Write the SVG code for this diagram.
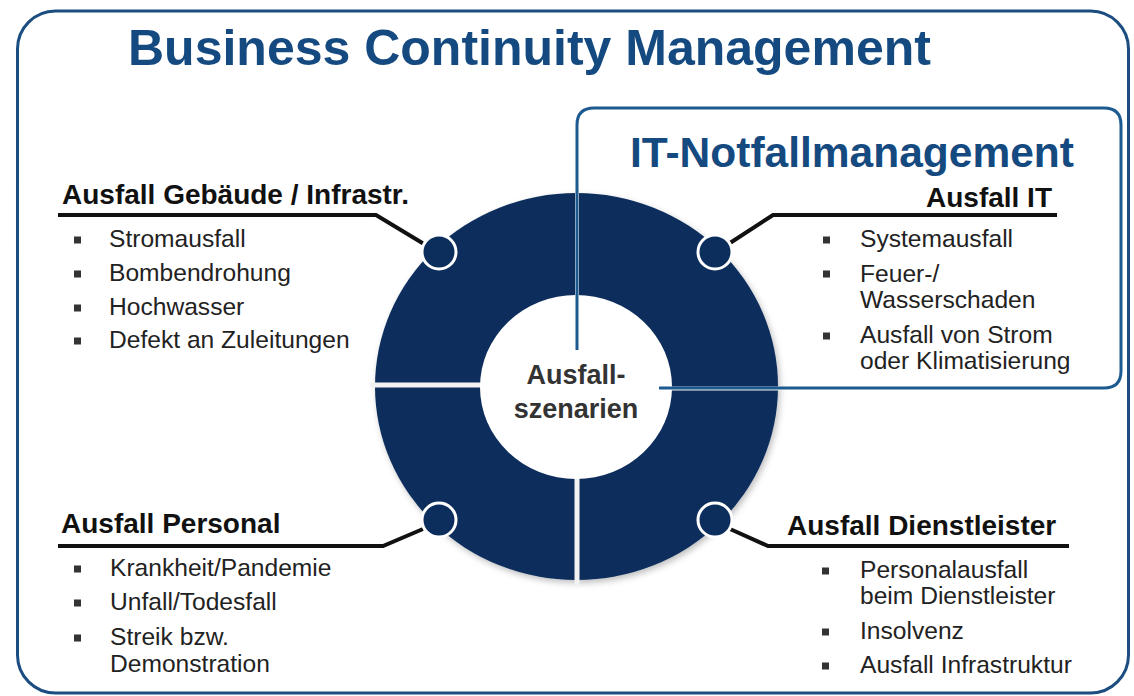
<svg xmlns="http://www.w3.org/2000/svg" width="1134" height="696" viewBox="0 0 1134 696">
  <defs>
    <filter id="shadow" x="-10%" y="-10%" width="120%" height="120%">
      <feDropShadow dx="2" dy="3" stdDeviation="3" flood-color="#000" flood-opacity="0.25"/>
    </filter>
    <style>
      text { font-family: "Liberation Sans", Arial, sans-serif; }
      .title { font-size: 50px; font-weight: bold; fill: #154a80; }
      .subtitle { font-size: 42.5px; font-weight: bold; fill: #154a80; }
      .head { font-size: 28px; font-weight: bold; fill: #111; }
      .item { font-size: 24.6px; fill: #222; }
      .center { font-size: 27px; font-weight: bold; fill: #333; text-anchor: middle; }
      .bullet { fill: #333; }
      .conn { fill: none; stroke: #111; stroke-width: 4; stroke-linejoin: miter; }
      .dot { fill: #0c2e5c; stroke: #fff; stroke-width: 3; }
      .frame { fill: none; stroke: #1b4d80; stroke-width: 3; }
      .itline { fill: none; stroke: #1d5a90; stroke-width: 3; }
    </style>
  </defs>
  <rect width="1134" height="696" fill="#fff"/>

  <g id="frame-bcm">
    <rect class="frame" x="17.5" y="11" width="1111" height="682" rx="38" ry="38"/>
    <text class="title" x="128" y="65">Business Continuity Management</text>
  </g>

  <g id="ring">
    <ellipse cx="576.5" cy="386.5" rx="201.5" ry="193.5" fill="#0c2e5c" filter="url(#shadow)"/>
    <line x1="370" y1="385" x2="485" y2="385" stroke="#f2f2f2" stroke-width="5"/>
    <line x1="577" y1="470" x2="577" y2="585" stroke="#f2f2f2" stroke-width="5"/>
    <line x1="577" y1="188" x2="577" y2="300" stroke="#f2f2f2" stroke-width="4"/>
    <line x1="665" y1="388.5" x2="782" y2="388.5" stroke="#f2f2f2" stroke-width="4"/>
    <ellipse cx="576" cy="387" rx="96" ry="92" fill="#fff"/>
    <text class="center" x="576" y="384">Ausfall-</text>
    <text class="center" x="576" y="418">szenarien</text>
  </g>

  <g id="it-notfallmanagement">
    <path class="itline" d="M577,350 V125 Q577,108 594,108 H1104 Q1121,108 1121,125 V371 Q1121,388 1104,388 H659"/>
    <text class="subtitle" x="630" y="167">IT-Notfallmanagement</text>
  </g>

  <g id="connectors">
    <path class="conn" d="M58,215 H376 L424,244"/>
    <path class="conn" d="M1057,215 H773 L730,243"/>
    <path class="conn" d="M58,546 H383 L423,529"/>
    <path class="conn" d="M1069,546 H768 L730,529"/>
  </g>

  <g id="dots">
    <circle class="dot" cx="439" cy="252" r="17"/>
    <circle class="dot" cx="715" cy="252" r="17"/>
    <circle class="dot" cx="439" cy="520" r="17"/>
    <circle class="dot" cx="715" cy="520" r="17"/>
  </g>

  <g id="ausfall-gebaeude">
    <text class="head" x="62" y="204">Ausfall Gebäude / Infrastr.</text>
    <rect class="bullet" x="74" y="236.5" width="7" height="7"/>
    <text class="item" x="109" y="247">Stromausfall</text>
    <rect class="bullet" x="74" y="270.5" width="7" height="7"/>
    <text class="item" x="109" y="281">Bombendrohung</text>
    <rect class="bullet" x="74" y="304.5" width="7" height="7"/>
    <text class="item" x="109" y="315">Hochwasser</text>
    <rect class="bullet" x="74" y="337.5" width="7" height="7"/>
    <text class="item" x="109" y="348">Defekt an Zuleitungen</text>
  </g>

  <g id="ausfall-it">
    <text class="head" x="1052" y="207" text-anchor="end">Ausfall IT</text>
    <rect class="bullet" x="823" y="236.5" width="7" height="7"/>
    <text class="item" x="860" y="247">Systemausfall</text>
    <rect class="bullet" x="823" y="270.5" width="7" height="7"/>
    <text class="item" x="860" y="282">Feuer-/</text>
    <text class="item" x="860" y="308">Wasserschaden</text>
    <rect class="bullet" x="823" y="332.5" width="7" height="7"/>
    <text class="item" x="860" y="343">Ausfall von Strom</text>
    <text class="item" x="860" y="369">oder Klimatisierung</text>
  </g>

  <g id="ausfall-personal">
    <text class="head" x="61" y="533">Ausfall Personal</text>
    <rect class="bullet" x="74" y="565.5" width="7" height="7"/>
    <text class="item" x="110" y="576">Krankheit/Pandemie</text>
    <rect class="bullet" x="74" y="599.5" width="7" height="7"/>
    <text class="item" x="110" y="610">Unfall/Todesfall</text>
    <rect class="bullet" x="74" y="634.5" width="7" height="7"/>
    <text class="item" x="110" y="645">Streik bzw.</text>
    <text class="item" x="110" y="672">Demonstration</text>
  </g>

  <g id="ausfall-dienstleister">
    <text class="head" x="787" y="535">Ausfall Dienstleister</text>
    <rect class="bullet" x="822" y="567.5" width="7" height="7"/>
    <text class="item" x="860" y="578">Personalausfall</text>
    <text class="item" x="860" y="604">beim Dienstleister</text>
    <rect class="bullet" x="822" y="628.5" width="7" height="7"/>
    <text class="item" x="860" y="639">Insolvenz</text>
    <rect class="bullet" x="822" y="662.5" width="7" height="7"/>
    <text class="item" x="860" y="673">Ausfall Infrastruktur</text>
  </g>
</svg>
